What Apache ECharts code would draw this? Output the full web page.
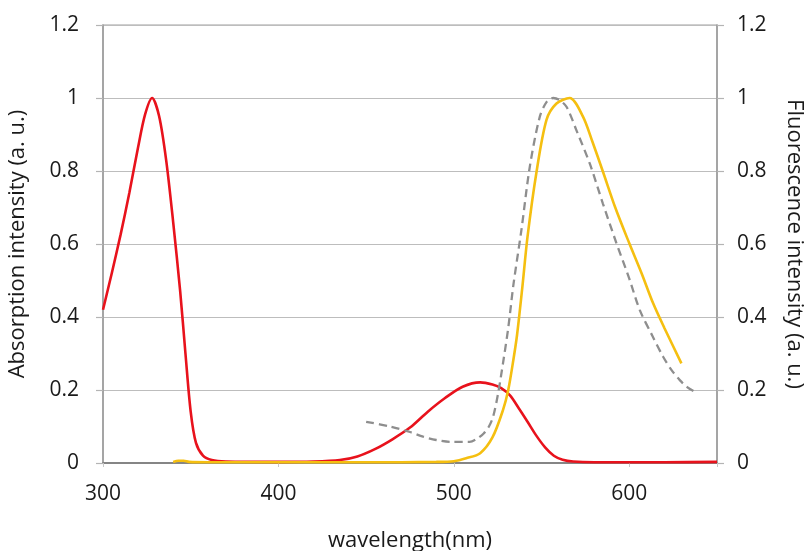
<!DOCTYPE html>
<html>
<head>
<meta charset="utf-8">
<script src="https://cdn.jsdelivr.net/npm/echarts@6/dist/echarts.min.js"></script>
<style>
html,body{margin:0;padding:0;background:#fff;}
#c{width:807px;height:551px;}
</style>
</head>
<body>
<div id="c"></div>
<script>
// Absorption (left axis, red)
const absX = [300,305,310,315,320,324,328,332,336,340,344,347,350,353,357,362,370,400,420,435,445,455,465,475,485,495,505,515,522,527,532,537,542,547,552,557,562,568,580,620,650];
const absY = [0.42,0.52,0.625,0.74,0.865,0.955,1.0,0.95,0.83,0.66,0.47,0.3,0.14,0.055,0.02,0.008,0.004,0.003,0.004,0.008,0.018,0.038,0.065,0.097,0.14,0.178,0.209,0.221,0.215,0.205,0.185,0.15,0.113,0.075,0.043,0.02,0.009,0.004,0.002,0.002,0.003];
// Fluorescence (right axis, yellow)
const fluX = [340,343,346,349,360,400,450,490,500,507,515,522,528,531,534,536,539,542,547,552.8,558.5,566,573.6,579,585,592,600,607,613.6,620,629.7];
const fluY = [0.003,0.006,0.006,0.003,0.002,0.002,0.002,0.003,0.005,0.013,0.027,0.07,0.145,0.2,0.285,0.35,0.48,0.62,0.794,0.94,0.985,1.0,0.949,0.88,0.798,0.70,0.602,0.52,0.4375,0.37,0.273];
// Excitation (right axis, grey dashed)
const excX = [450,463.5,475,482.5,490,498,509,513,517,520,522.4,525.2,528,531,534,538.5,543.3,549,553,556.6,560,564.2,570,577.5,585,592.7,600,606,613,619.3,624,628.8,633,637.3];
const excY = [0.113,0.1,0.085,0.072,0.063,0.058,0.058,0.066,0.081,0.1,0.127,0.19,0.273,0.37,0.49,0.638,0.812,0.949,0.99,1.0,0.995,0.976,0.91,0.82,0.71,0.602,0.505,0.419,0.35,0.291,0.255,0.227,0.208,0.195];

const xTicks = [300,400,500,600];

const pairs = (xs, ys) => xs.map((x, i) => [x, ys[i]]);
const font = '"Open Sans", "Noto Sans", sans-serif';

const chart = echarts.init(document.getElementById('c'), null, {renderer: 'canvas'});
const yAxisBase = {
  type: 'value', min: 0, max: 1.2, interval: 0.2,
  nameLocation: 'middle',
  nameTextStyle: {fontFamily: font, fontSize: 22, color: '#1a1a1a'},
  axisLine: {show: true, lineStyle: {color: '#9a9a9a', width: 1.5}},
  axisTick: {show: true, length: 7, inside: false, lineStyle: {color: '#b4b4b4', width: 1.2}},
  axisLabel: {fontFamily: font, fontSize: 21, color: '#1a1a1a', formatter: v => String(+v.toFixed(1))}
};
chart.setOption({
  animation: false,
  backgroundColor: '#fff',
  grid: {left: 103, right: 90, top: 25, bottom: 88, containLabel: false, outerBoundsMode: 'none',
    show: true, borderColor: '#a0a0a0', borderWidth: 1.2},
  xAxis: {
    type: 'value', min: 300, max: 650, interval: 100,
    name: 'wavelength(nm)', nameLocation: 'middle', nameGap: 67,
    nameTextStyle: {fontFamily: font, fontSize: 22, color: '#1a1a1a'},
    axisLine: {show: true, onZero: false, lineStyle: {color: '#858585', width: 2}},
    axisTick: {show: true, length: 4, lineStyle: {color: '#c8c8c8'}},
    axisLabel: {fontFamily: font, fontSize: 21, color: '#1a1a1a', margin: 21,
      customValues: xTicks},
    splitLine: {show: false}
  },
  yAxis: [
    Object.assign({}, yAxisBase, {
      position: 'left', name: 'Absorption intensity (a. u.)', nameGap: 74,
      axisLabel: Object.assign({}, yAxisBase.axisLabel, {margin: 24}),
      splitLine: {show: true, lineStyle: {color: '#bdbdbd', width: 1.2}}
    }),
    Object.assign({}, yAxisBase, {
      position: 'right', name: 'Fluorescence intensity (a. u.)', nameGap: 66, nameRotate: -90,
      axisLabel: Object.assign({}, yAxisBase.axisLabel, {margin: 20}),
      splitLine: {show: false}
    })
  ],
  series: [
    {type: 'line', yAxisIndex: 0, data: pairs(absX, absY), smooth: 0.3, symbol: 'none',
      lineStyle: {color: '#e8121c', width: 2.6}, z: 3},
    {type: 'line', yAxisIndex: 1, data: pairs(fluX, fluY), smooth: 0.3, symbol: 'none',
      lineStyle: {color: '#f5bf10', width: 2.6}, z: 4},
    {type: 'line', yAxisIndex: 1, data: pairs(excX, excY), smooth: 0.3, symbol: 'none',
      lineStyle: {color: '#8e8e8e', width: 2.3, type: [8, 5]}, z: 5}
  ]
});
</script>
</body>
</html>
